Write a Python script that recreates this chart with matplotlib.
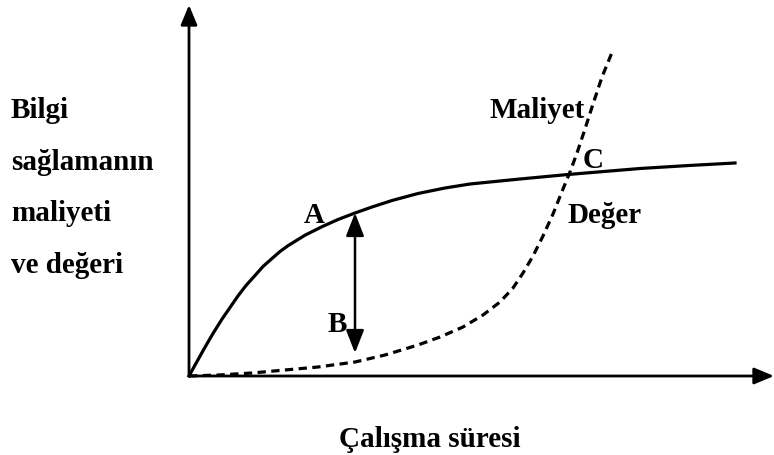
import matplotlib.pyplot as plt

# Değer (value) curve (x = time, y = value)
deger_x = [0, 8, 16, 24, 33, 41, 49, 57, 66, 74, 83, 91, 99, 116, 133, 149, 166, 183, 203, 229, 256, 281,
           331, 379, 451, 500, 546]
deger_y = [0, 14.5, 28.8, 42.5, 56.9, 68.5, 80.1, 90.5, 100.5, 109.5, 117.5, 124.5, 130.3, 140.8, 149.3,
           156.5, 163, 169, 175.5, 182.5, 188, 192, 197, 201.5, 207.5, 210.5, 213]

# Maliyet (cost) curve
maliyet_x = [0, 30, 63, 96, 129, 166, 196, 229, 251, 274, 294, 311, 324, 334, 344, 354, 364,
             374, 381, 388, 396, 404, 413, 424]
maliyet_y = [0, 1, 3, 6, 9, 14, 21, 31, 39, 49, 61, 74, 88, 103, 120, 140, 162,
             187, 204, 223, 247, 272, 299, 326]

# A-B gap arrow
ab_x = 166
ab_top = 163
ab_bottom = 23

y_label = ['Bilgi', 'sağlamanın', 'maliyeti', 've değeri']
x_label = 'Çalışma süresi'

plt.rcParams['font.family'] = ['Liberation Serif', 'DejaVu Serif']

W, H = 774, 455
fig = plt.figure(figsize=(7.74, 4.55), dpi=100)
# origin of the chart sits at pixel (189, 376)
ax = fig.add_axes([189 / W, (H - 376) / H, (W - 189) / W, 376 / H])
ax.set_xlim(0, W - 189)
ax.set_ylim(0, 376)
ax.axis('off')

head = '-|>,head_length=1.2,head_width=0.5'
ax.annotate('', xy=(0, 371), xytext=(0, 0), annotation_clip=False,
            arrowprops=dict(arrowstyle=head, lw=2, color='black', shrinkA=0, shrinkB=0))
ax.annotate('', xy=(W - 189, 0), xytext=(0, 0), annotation_clip=False,
            arrowprops=dict(arrowstyle=head, lw=2, color='black', shrinkA=0, shrinkB=0))

ax.plot(deger_x, deger_y, color='black', lw=2.3, solid_joinstyle='round', clip_on=False)
ax.plot(maliyet_x, maliyet_y, color='black', lw=2.3, linestyle=(0, (2.6, 1.7)), clip_on=False)

ax.annotate('', xy=(ab_x, ab_top), xytext=(ab_x, ab_bottom),
            arrowprops=dict(arrowstyle='<|-|>,head_length=1.4,head_width=0.55', lw=1.8,
                            color='black', shrinkA=0, shrinkB=0))

fs = 21
fw = 'bold'
ax.text(125, 153, 'A', fontsize=fs, fontweight=fw, ha='center', va='baseline')
ax.text(148, 44, 'B', fontsize=fs, fontweight=fw, ha='center', va='baseline')
ax.text(404, 208, 'C', fontsize=fs, fontweight='bold', ha='center', va='baseline')
ax.text(301, 258, 'Maliyet', fontsize=fs, fontweight=fw, ha='left', va='baseline')
ax.text(378, 153, 'Değer', fontsize=fs, fontweight=fw, ha='left', va='baseline')

for i, t in enumerate(y_label):
    fig.text(11 / W, 1 - (118 + i * 51.7) / H, t, fontsize=fs, fontweight=fw,
             ha='left', va='baseline')

fig.text(430 / W, 1 - 447 / H, x_label, fontsize=fs, fontweight=fw, ha='center', va='baseline')

fig.savefig('out.png', dpi=100)
